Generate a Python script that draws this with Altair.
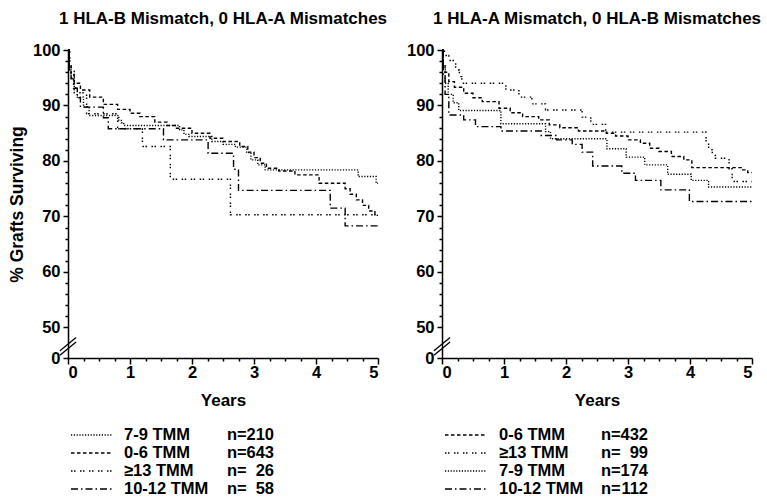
import altair as alt
import pandas as pd

FONT = "Liberation Sans"
Y0 = 44.5  # bottom of the broken axis (labelled "0")

# ---------------- data ----------------
GROUPS = ["0-6 TMM", "7-9 TMM", "10-12 TMM", "≥13 TMM"]
DASHES = [[3.5, 2.5], [1.2, 1.6], [7, 3, 1.5, 3], [1.5, 1.5, 1.5, 4.5]]

# Left panel: 1 HLA-B mismatch, 0 HLA-A mismatches
L06_t = [0, 0.02, 0.05, 0.1, 0.2, 0.35, 0.57, 0.8, 1.0, 1.16, 1.4, 1.6, 1.75, 2.0, 2.29, 2.5, 2.77, 2.9, 3.0, 3.1, 3.2, 3.4, 3.66, 4.05, 4.47, 4.55, 4.65, 4.75, 4.85, 4.95, 5.0]
L06_v = [100, 97.5, 95.5, 94.0, 92.8, 91.5, 90.2, 89.3, 88.6, 88.0, 87.0, 86.4, 85.9, 85.0, 84.1, 83.5, 82.6, 81.6, 80.6, 79.6, 78.7, 78.2, 77.5, 76.0, 75.0, 74.0, 73.0, 72.0, 71.0, 70.2, 70.2]
L79_t = [0, 0.02, 0.05, 0.1, 0.15, 0.25, 0.34, 0.82, 0.86, 0.9, 1.8, 1.87, 1.95, 2.32, 2.5, 2.7, 2.88, 2.95, 3.06, 3.18, 4.68, 4.97, 5.0]
L79_v = [100, 97, 95, 93.2, 91.5, 89.8, 88.2, 87.3, 86.9, 86.4, 85.6, 84.8, 84.4, 83.5, 83.0, 82.5, 81.5, 80.2, 79.3, 78.4, 77.2, 76.0, 76.0]
L1012_t = [0, 0.02, 0.05, 0.09, 0.15, 0.2, 0.57, 0.65, 1.54, 2.26, 2.67, 2.75, 4.23, 4.47, 5.0]
L1012_v = [100, 96.5, 94.8, 93.1, 91.4, 89.7, 87.8, 85.8, 83.8, 81.4, 78.5, 74.7, 71.5, 68.3, 68.3]
L13_t = [0, 0.03, 0.1, 0.3, 0.8, 1.2, 1.65, 2.62, 5.0]
L13_v = [100, 96.2, 92.3, 88.5, 85.8, 82.6, 76.7, 70.3, 70.3]

# Right panel: 1 HLA-A mismatch, 0 HLA-B mismatches
R06_t = [0, 0.02, 0.05, 0.11, 0.2, 0.35, 0.5, 0.65, 0.92, 1.1, 1.3, 1.56, 1.73, 1.9, 2.2, 2.65, 2.8, 3.0, 3.2, 3.35, 3.5, 3.7, 3.9, 4.03, 4.85, 4.93, 5.0]
R06_v = [100, 97.5, 96.0, 94.3, 93.3, 92.2, 91.4, 90.7, 89.5, 88.7, 88.0, 87.4, 86.5, 86.0, 85.4, 85.0, 84.5, 83.8, 83.2, 82.3, 81.7, 80.8, 80.2, 78.8, 78.4, 77.9, 77.9]
R79_t = [0, 0.02, 0.05, 0.1, 0.18, 0.27, 0.95, 1.67, 1.75, 2.66, 2.97, 3.27, 3.64, 4.02, 4.3, 5.0]
R79_v = [100, 96.5, 94.0, 92.0, 90.5, 89.1, 86.7, 85.3, 84.0, 82.2, 80.7, 79.3, 77.6, 76.5, 75.3, 75.3]
R1012_t = [0, 0.02, 0.05, 0.11, 0.35, 0.54, 0.95, 1.6, 1.85, 2.1, 2.26, 2.43, 2.9, 3.12, 3.53, 3.99, 5.0]
R1012_v = [100, 95.5, 92.0, 88.3, 87.4, 86.2, 85.4, 84.6, 83.8, 83.0, 81.6, 79.1, 77.8, 76.5, 74.8, 72.7, 72.7]
R13_t = [0, 0.04, 0.11, 0.22, 0.28, 0.32, 1.03, 1.24, 1.45, 1.67, 2.26, 2.4, 2.64, 4.26, 4.3, 4.36, 4.41, 4.63, 4.68, 5.0]
R13_v = [100, 99.0, 98.1, 96.4, 95.2, 94.0, 92.8, 91.5, 90.3, 89.2, 87.9, 86.6, 85.2, 83.2, 82.0, 81.0, 80.5, 78.6, 76.3, 76.3]

LEFT_TITLE = "1 HLA-B Mismatch, 0 HLA-A Mismatches"
RIGHT_TITLE = "1 HLA-A Mismatch, 0 HLA-B Mismatches"
LEFT_LABELS = ["7-9 TMM", "0-6 TMM", "≥13 TMM", "10-12 TMM"]
LEFT_N = ["210", "643", "26", "58"]
RIGHT_LABELS = ["0-6 TMM", "≥13 TMM", "7-9 TMM", "10-12 TMM"]
RIGHT_N = ["432", "99", "174", "112"]

MAJOR_X = [0, 1, 2, 3, 4, 5]
MINOR_X = [q / 4 for q in range(21) if q % 4]
MAJOR_Y = [Y0, 50, 60, 70, 80, 90, 100]
MINOR_Y = [v for v in range(52, 100, 2) if v % 10]

# ---------------- helpers ----------------
dash_scale = alt.Scale(domain=GROUPS, range=DASHES)
xscale = alt.Scale(domain=[0, 5], nice=False, zero=False)
yscale = alt.Scale(domain=[Y0, 100], nice=False, zero=False)


def curves_df(curves):
    rows = []
    for g, (ts, vs) in curves.items():
        for t, v in zip(ts, vs):
            rows.append({"group": g, "t": t, "v": v})
    return pd.DataFrame(rows)


def panel(df, title, ytitle):
    base = alt.Chart(df)
    yaxis_kw = dict(values=MAJOR_Y, labelExpr="datum.value < 45 ? '0' : datum.label",
                    tickSize=5, orient="left", labelPadding=3)
    if ytitle:
        yaxis_kw.update(title=ytitle, titleFontSize=17.5, titleFont=FONT, titleFontWeight="bold",
                        titleColor="black", titlePadding=6)
    else:
        yaxis_kw.update(title=None)
    lines = base.mark_line(interpolate="step-after", color="black", strokeWidth=1.4, clip=False).encode(
        x=alt.X("t:Q", scale=xscale,
                axis=alt.Axis(values=MAJOR_X, format="d", tickSize=6, title="Years", titleFontSize=17,
                              titleFont=FONT, titleFontWeight="bold", titleColor="black",
                              titlePadding=12, labelPadding=0, orient="bottom")),
        y=alt.Y("v:Q", scale=yscale, axis=alt.Axis(**yaxis_kw)),
        strokeDash=alt.StrokeDash("group:N", scale=dash_scale, legend=None),
        detail="group:N",
    )
    minor = base.mark_point(opacity=0).encode(
        x=alt.X("t:Q", scale=xscale, axis=alt.Axis(values=MINOR_X, labels=False, tickSize=3,
                                                   domain=False, title=None, orient="bottom")),
        y=alt.Y("v:Q", scale=yscale, axis=alt.Axis(values=MINOR_Y, labels=False, tickSize=3,
                                                   domain=False, title=None, orient="left")),
    )
    brk = pd.DataFrame({"x": [-0.13, -0.13], "x2": [0.13, 0.13],
                        "y": [45.0, 45.8], "y2": [47.4, 48.2]})
    breaks = alt.Chart(brk).mark_rule(color="black", strokeWidth=1.3, clip=False).encode(
        x=alt.X("x:Q", scale=xscale, axis=None), x2="x2:Q",
        y=alt.Y("y:Q", scale=yscale, axis=None), y2="y2:Q",
    )
    return alt.layer(lines, minor, breaks).resolve_axis(x="independent", y="independent").properties(
        width=310, height=308,
        title=alt.Title(title, fontSize=17, font=FONT, fontWeight="bold", color="black",
                        anchor="middle", frame="group", offset=14),
    )


def legend(labels, ns, x0, tx, nx):
    ldf = pd.DataFrame({"label": labels, "n": ns, "row": list(range(len(labels)))})
    y = alt.Y("row:O", axis=None, scale=alt.Scale(domain=list(range(len(labels)))))
    b = alt.Chart(ldf)
    rule = b.mark_rule(color="black", strokeWidth=1.4).encode(
        x=alt.value(x0), x2=alt.value(x0 + 42), y=y,
        strokeDash=alt.StrokeDash("label:N", scale=dash_scale, legend=None),
    )
    txt_kw = dict(baseline="middle", font=FONT, fontSize=16.5, fontWeight="bold", color="black")
    t1 = b.mark_text(align="left", **txt_kw).encode(x=alt.value(tx), y=y, text="label:N")
    t2 = b.mark_text(align="left", **txt_kw).encode(x=alt.value(nx), y=y, text=alt.value("n="))
    t3 = b.mark_text(align="right", **txt_kw).encode(x=alt.value(nx + 47), y=y, text="n:N")
    return alt.layer(rule, t1, t2, t3).properties(width=310, height=72)


left_df = curves_df({"7-9 TMM": (L79_t, L79_v), "0-6 TMM": (L06_t, L06_v),
                     "≥13 TMM": (L13_t, L13_v), "10-12 TMM": (L1012_t, L1012_v)})
right_df = curves_df({"0-6 TMM": (R06_t, R06_v), "≥13 TMM": (R13_t, R13_v),
                      "7-9 TMM": (R79_t, R79_v), "10-12 TMM": (R1012_t, R1012_v)})

left = alt.vconcat(panel(left_df, LEFT_TITLE, "% Grafts Surviving"),
                   legend(LEFT_LABELS, LEFT_N, 3, 56, 159), spacing=17)
right = alt.vconcat(panel(right_df, RIGHT_TITLE, None),
                    legend(RIGHT_LABELS, RIGHT_N, 3, 57, 159), spacing=17)

chart = alt.hconcat(left, right, spacing=18).properties(
    padding={"left": 8, "top": 10, "right": 2, "bottom": 0},
).configure_view(stroke=None).configure_axis(
    grid=False, domainColor="black", tickColor="black", labelColor="black", domainWidth=1.5,
    tickWidth=1.5, labelFont=FONT, labelFontSize=16.5, labelFontWeight="bold",
).configure_concat(spacing=18)

chart.save("out.html", embed_options={"renderer": "svg", "actions": False})
